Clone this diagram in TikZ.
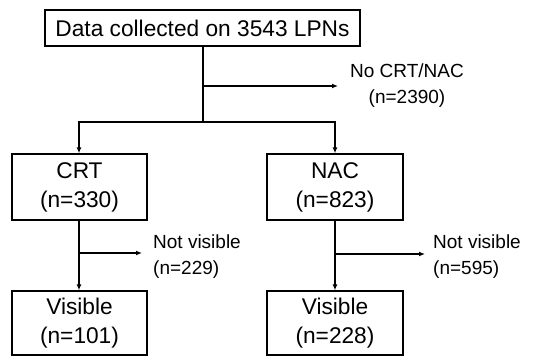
\documentclass[tikz,border=0pt]{standalone}
\usepackage{fontspec}
\setmainfont{Liberation Sans}
\usetikzlibrary{arrows.meta}
\begin{document}
\begin{tikzpicture}[x=1pt,y=-1pt,
  box/.style={draw,line width=1.4pt,inner sep=0pt,align=center,
    font=\fontsize{22.7}{29}\selectfont},
  lbl/.style={inner sep=0pt,font=\fontsize{19}{26}\selectfont},
  conn/.style={line width=1.4pt},
  arr/.style={conn,-{Latex[length=6pt,width=5pt]}}]
\useasboundingbox (0,0) rectangle (544,356);
\node[box,minimum width=315pt,minimum height=36pt] (top) at (202.5,28) {Data collected on 3543 LPNs};
\node[box,minimum width=135pt,minimum height=66pt] (crt) at (79.5,187) {CRT\\(n=330)};
\node[box,minimum width=136pt,minimum height=66pt] (nac) at (335,187) {NAC\\(n=823)};
\node[box,minimum width=135pt,minimum height=64pt] (vis1) at (79.5,323) {Visible\\(n=101)};
\node[box,minimum width=136pt,minimum height=64pt] (vis2) at (335,323) {Visible\\(n=228)};
\node[lbl,align=center] (no) at (407,86) {No CRT/NAC\\(n=2390)};
\node[lbl,align=left,anchor=west] (nv1) at (153,256.5) {Not visible\\(n=229)};
\node[lbl,align=left,anchor=west] (nv2) at (433,256.5) {Not visible\\(n=595)};
\coordinate (split) at (203,122);
\coordinate (b0) at (203,86);
\coordinate (b0e) at (338,86);
\coordinate (b1) at (79,253);
\coordinate (b1e) at (142,253);
\coordinate (b2) at (335,254);
\coordinate (b2e) at (425,254);
\draw[conn] (top.south -| split) -- (split);
\draw[arr] (split) -| (crt.north -| 79,0);
\draw[arr] (split) -| (nac.north);
\draw[arr] (b0) -- (b0e);
\draw[arr] (crt.south -| b1) -- (vis1.north -| b1);
\draw[arr] (b1) -- (b1e);
\draw[arr] (nac.south) -- (vis2.north);
\draw[arr] (b2) -- (b2e);
\end{tikzpicture}
\end{document}
